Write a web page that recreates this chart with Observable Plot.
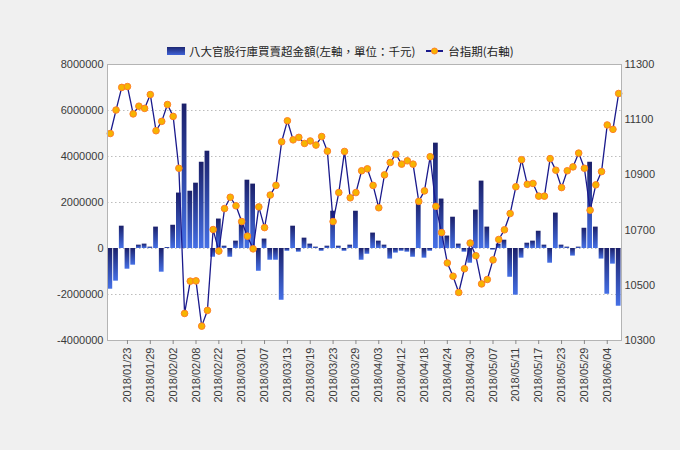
<!DOCTYPE html>
<html>
<head>
<meta charset="utf-8">
<script src="https://cdn.jsdelivr.net/npm/d3@7"></script>
<script src="https://cdn.jsdelivr.net/npm/@observablehq/plot@0.6"></script>
<style>
  html, body { margin: 0; padding: 0; background: #f0f0f0; width: 680px; height: 450px; overflow: hidden; }
  #legend { position: relative; height: 52px; }
  #legend .row { position: absolute; left: 167px; top: 44px; height: 14px; display: flex; align-items: center;
    font-family: "Noto Sans CJK TC", "Noto Sans", sans-serif; font-size: 11.5px; line-height: 14px; color: #222; white-space: nowrap; }
  #legend .sw { width: 18px; height: 8px; background: linear-gradient(to bottom, #1d2672, #3f63d8); margin-right: 4px; }
  #legend svg { margin: 0 5px 0 11px; }
  #chart { position: relative; }
</style>
</head>
<body>
<div id="legend"></div>
<div id="chart"></div>
<script>
const dates = [
  "2018/01/18","2018/01/19","2018/01/22","2018/01/23","2018/01/24","2018/01/25","2018/01/26","2018/01/29","2018/01/30","2018/01/31",
  "2018/02/01","2018/02/02","2018/02/05","2018/02/06","2018/02/07","2018/02/08","2018/02/09","2018/02/12","2018/02/21","2018/02/22",
  "2018/02/23","2018/02/26","2018/02/27","2018/03/01","2018/03/02","2018/03/05","2018/03/06","2018/03/07","2018/03/08","2018/03/09",
  "2018/03/12","2018/03/13","2018/03/14","2018/03/15","2018/03/16","2018/03/19","2018/03/20","2018/03/21","2018/03/22","2018/03/23",
  "2018/03/26","2018/03/27","2018/03/28","2018/03/29","2018/03/30","2018/03/31","2018/04/02","2018/04/03","2018/04/09","2018/04/10",
  "2018/04/11","2018/04/12","2018/04/13","2018/04/16","2018/04/17","2018/04/18","2018/04/19","2018/04/20","2018/04/23","2018/04/24",
  "2018/04/25","2018/04/26","2018/04/27","2018/04/30","2018/05/02","2018/05/03","2018/05/04","2018/05/07","2018/05/08","2018/05/09",
  "2018/05/10","2018/05/11","2018/05/14","2018/05/15","2018/05/16","2018/05/17","2018/05/18","2018/05/21","2018/05/22","2018/05/23",
  "2018/05/24","2018/05/25","2018/05/28","2018/05/29","2018/05/30","2018/05/31","2018/06/01","2018/06/04","2018/06/05","2018/06/06"
];

// 八大官股行庫買賣超金額 (千元)
const buySell = [
  -1770000,-1420000,970000,-900000,-725000,145000,190000,58000,930000,-1030000,
  43000,1010000,2410000,6280000,2490000,2840000,3750000,4230000,-380000,1280000,
  100000,-380000,320000,1120000,2970000,2800000,-990000,410000,-510000,-510000,
  -2250000,-120000,970000,-160000,450000,190000,58000,-120000,100000,1620000,
  100000,-120000,145000,1620000,-510000,-250000,670000,320000,145000,-460000,
  -200000,-120000,-160000,-380000,2060000,-420000,-120000,4580000,2150000,540000,
  1360000,190000,-160000,-640000,1670000,2930000,930000,-72000,190000,360000,
  -1250000,-2030000,-420000,230000,320000,750000,145000,-640000,1540000,145000,
  58000,-330000,58000,880000,3750000,930000,-460000,-1990000,-680000,-2510000
];

// 台指期
const futures = [
  11050,11135,11217,11220,11121,11149,11141,11191,11060,11094,
  11155,11112,10924,10398,10515,10516,10352,10409,10702,10624,
  10778,10819,10788,10731,10678,10632,10784,10709,10827,10862,
  11020,11096,11027,11036,11014,11023,11008,11039,10986,10731,
  10836,10985,10817,10836,10915,10922,10862,10781,10900,10945,
  10975,10939,10951,10939,10804,10842,10966,10786,10691,10581,
  10533,10474,10560,10653,10607,10505,10521,10592,10666,10701,
  10760,10857,10955,10866,10869,10823,10823,10959,10917,10854,
  10915,10929,10979,10924,10772,10864,10912,11081,11065,11195
];

const tickLabels = [
  "2018/01/23","2018/01/29","2018/02/02","2018/02/08","2018/02/22","2018/03/01","2018/03/07","2018/03/13",
  "2018/03/19","2018/03/23","2018/03/29","2018/04/03","2018/04/12","2018/04/18","2018/04/24","2018/04/30",
  "2018/05/07","2018/05/11","2018/05/17","2018/05/23","2018/05/29","2018/06/04"
];
const leftTicks = [-4000000,-2000000,0,2000000,4000000,6000000,8000000];
const rightTicks = [10300,10500,10700,10900,11100,11300];

const seriesNames = ["八大官股行庫買賣超金額(左軸，單位：千元)", "台指期(右軸)"];

const data = dates.map((d, i) => ({date: d, v: buySell[i], f: futures[i]}));

// map right-axis values onto the left (primary) y scale
const toLeft = d3.scaleLinear([rightTicks[0], rightTicks[rightTicks.length - 1]],
                              [leftTicks[0], leftTicks[leftTicks.length - 1]]);

const chart = Plot.plot({
  width: 680,
  height: 398,
  marginTop: 12,
  marginBottom: 110,
  marginLeft: 107,
  marginRight: 59,
  style: {background: "transparent", fontFamily: "'Liberation Sans', Arial, sans-serif", fontSize: "11px", color: "#3a3a3a", overflow: "visible"},
  x: {type: "band", domain: dates, paddingInner: 0.17, paddingOuter: 0.08, label: null},
  y: {domain: [leftTicks[0], leftTicks[leftTicks.length - 1]], label: null},
  marks: [
    Plot.frame({fill: "white", stroke: "none"}),
    Plot.gridY(leftTicks, {stroke: "#bdbdbd", strokeOpacity: 1, strokeDasharray: "1.5,2.5"}),
    Plot.barY(data, {x: "date", y: "v", fill: "url(#barGrad)"}),
    Plot.line(data, {x: "date", y: d => toLeft(d.f), stroke: "#1a1a8c", strokeWidth: 1.3}),
    Plot.dot(data, {x: "date", y: d => toLeft(d.f), r: 3.3, fill: "#f6b400", stroke: "#ff7f27", strokeWidth: 1}),
    Plot.frame({stroke: "#b4b4b4"}),
    Plot.axisY(leftTicks, {anchor: "left", tickSize: 0, tickPadding: 4, tickFormat: d => String(d), label: null}),
    Plot.axisY(rightTicks.map(toLeft), {anchor: "right", tickSize: 0, tickPadding: 3,
      tickFormat: d => String(Math.round(toLeft.invert(d))), label: null}),
    Plot.axisX(tickLabels, {tickRotate: -90, tickSize: 4, tickPadding: 3, stroke: "#888", label: null})
  ]
});

const ns = "http://www.w3.org/2000/svg";
const defs = document.createElementNS(ns, "defs");
defs.innerHTML = `<linearGradient id="barGrad" x1="0" y1="0" x2="0" y2="1">
  <stop offset="0%" stop-color="#1b206a"/>
  <stop offset="100%" stop-color="#4570e6"/>
</linearGradient>`;
chart.insertBefore(defs, chart.firstChild);
document.getElementById("chart").appendChild(chart);

// legend
const legend = document.getElementById("legend");
legend.innerHTML = `<div class="row">
  <span class="sw"></span><span>${seriesNames[0]}</span>
  <svg width="17" height="10"><line x1="0" y1="5" x2="17" y2="5" stroke="#1a1a8c" stroke-width="2"/>
  <circle cx="8.5" cy="5" r="3" fill="#f6b400" stroke="#ff7f27" stroke-width="1"/></svg>
  <span>${seriesNames[1]}</span></div>`;
</script>
</body>
</html>
